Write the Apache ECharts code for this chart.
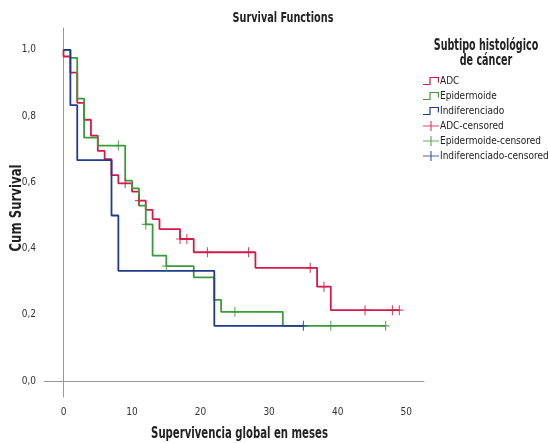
<!DOCTYPE html>
<html>
<head>
<meta charset="utf-8">
<script src="https://cdn.jsdelivr.net/npm/echarts@6/dist/echarts.min.js"></script>
<style>html,body{margin:0;padding:0;background:#fff}#c{width:548px;height:443px}</style>
</head>
<body>
<div id="c"></div>
<script>
// ---- data ----
var groupNames = ['ADC', 'Epidermoide', 'Indiferenciado'];
var adcTimes = [0, 0, 1, 2, 3, 4, 5, 6, 7, 8, 10, 11, 12, 13, 14, 17, 19, 28, 37, 39, 49];
var adcSurv  = [1, 0.98, 0.931, 0.84, 0.789, 0.741, 0.695, 0.67, 0.622, 0.597, 0.572, 0.545, 0.517, 0.489, 0.459, 0.429, 0.389, 0.342, 0.285, 0.214, 0.214];
var adcCensored = [9, 11, 17, 18, 21, 27, 36, 38, 44, 48, 49];

var epiTimes = [0, 1, 2, 3, 5, 9, 10, 11, 12, 13, 15, 19, 22, 23, 32, 47];
var epiSurv  = [1, 0.976, 0.853, 0.735, 0.711, 0.605, 0.582, 0.53, 0.473, 0.379, 0.347, 0.313, 0.245, 0.209, 0.167, 0.167];
var epiCensored = [8, 12, 15, 25, 39, 47];

var indTimes = [0, 1, 2, 7, 8, 22, 35];
var indSurv  = [1, 0.833, 0.667, 0.5, 0.333, 0.167, 0.167];
var indCensored = [35];

var xTicks = [0, 10, 20, 30, 40, 50];
var yTicks = [0, 0.2, 0.4, 0.6, 0.8, 1.0];

var chartTitle = 'Survival Functions';
var legendTitle = 'Subtipo histológico\nde cáncer';
var xName = 'Supervivencia global en meses';
var yName = 'Cum Survival';

// ---- styling ----
var colors = ['#d41a4a', '#3c9a3a', '#1e3b8e'];
var FONT = '"DejaVu Sans Condensed", "DejaVu Sans", sans-serif';

function pairs(ts, ss) { return ts.map(function (t, i) { return [t, ss[i]]; }); }
function survAt(ts, ss, t) {
  var v = ss[0];
  for (var i = 0; i < ts.length; i++) { if (ts[i] <= t) v = ss[i]; }
  return v;
}
function censorPts(ts, ss, cs) { return cs.map(function (c) { return [c, survAt(ts, ss, c)]; }); }

var stepIcon = 'path://M0,7.4H6.4V0.4H16V6H14.8V1.6H7.6V8.6H0Z';
var plusIcon = 'path://M4.3,0H5.7V4.4H10V5.6H5.7V10H4.3V5.6H0V4.4H4.3Z';
var plusLegend = 'path://M0,4.4H7.4V0H8.6V4.4H16V5.6H8.6V10H7.4V5.6H0Z';

var curves = [pairs(adcTimes, adcSurv), pairs(epiTimes, epiSurv), pairs(indTimes, indSurv)];
var cens = [censorPts(adcTimes, adcSurv, adcCensored), censorPts(epiTimes, epiSurv, epiCensored), censorPts(indTimes, indSurv, indCensored)];

var series = [];
for (var g = 0; g < 3; g++) {
  series.push({
    name: groupNames[g], type: 'line', step: 'end', data: curves[g],
    symbol: 'none', showSymbol: false, z: 3 + g,
    lineStyle: { color: colors[g], width: 1.8 },
    itemStyle: { color: colors[g] }
  });
}
for (var g2 = 0; g2 < 3; g2++) {
  series.push({
    name: groupNames[g2] + '-censored', type: 'scatter', data: cens[g2],
    symbol: plusIcon, symbolSize: [8, 10], z: 6 + g2,
    itemStyle: { color: colors[g2] }
  });
}

function label(text, x, y, size, sx, rot) {
  return { type: 'text', x: x, y: y, rotation: rot || 0, scaleX: sx, z: 10,
    style: { text: text, fontFamily: FONT, fontSize: size, fontWeight: 'bold', fill: '#222',
      align: 'center', verticalAlign: 'middle', lineHeight: 15 } };
}

var chart = echarts.init(document.getElementById('c'));
chart.setOption({
  animation: false,
  backgroundColor: '#fff',
  graphic: [
    label(chartTitle, 283, 18, 14, 0.77),
    label(legendTitle, 486, 54, 15, 0.71),
    label(xName, 239.5, 434, 15, 0.75),
    label(yName, 17, 208, 15, 0.87, Math.PI / 2)
  ],
  legend: {
    orient: 'vertical', left: 418, top: 71, itemGap: 5, itemWidth: 16, itemHeight: 10,
    textStyle: { fontFamily: FONT, fontSize: 10, color: '#222', padding: [0, 0, 0, -4] },
    data: [
      { name: 'ADC', icon: stepIcon, itemStyle: { color: colors[0] } },
      { name: 'Epidermoide', icon: stepIcon, itemStyle: { color: colors[1] } },
      { name: 'Indiferenciado', icon: stepIcon, itemStyle: { color: colors[2] } },
      { name: 'ADC-censored', icon: plusLegend, itemStyle: { color: colors[0] } },
      { name: 'Epidermoide-censored', icon: plusLegend, itemStyle: { color: colors[1] } },
      { name: 'Indiferenciado-censored', icon: plusLegend, itemStyle: { color: colors[2] } }
    ]
  },
  grid: { left: 44, right: 124, top: 28, bottom: 46, containLabel: false, outerBoundsMode: 'none' },
  xAxis: {
    type: 'value', min: -2.85, max: 52.6,
    axisLine: { show: true, lineStyle: { color: '#999', width: 1 } },
    axisTick: { show: false },
    splitLine: { show: false },
    axisLabel: { customValues: xTicks, fontFamily: FONT, fontSize: 10, color: '#333', margin: 10 }
  },
  yAxis: {
    type: 'value', min: -0.048, max: 1.066,
    axisLine: { show: true, lineStyle: { color: '#999', width: 1 } },
    axisTick: { show: false },
    splitLine: { show: false },
    axisLabel: { customValues: yTicks, fontFamily: FONT, fontSize: 10, color: '#333', margin: 8,
      formatter: function (v) { return v.toFixed(1).replace('.', ','); } }
  },
  series: series
});
</script>
</body>
</html>
